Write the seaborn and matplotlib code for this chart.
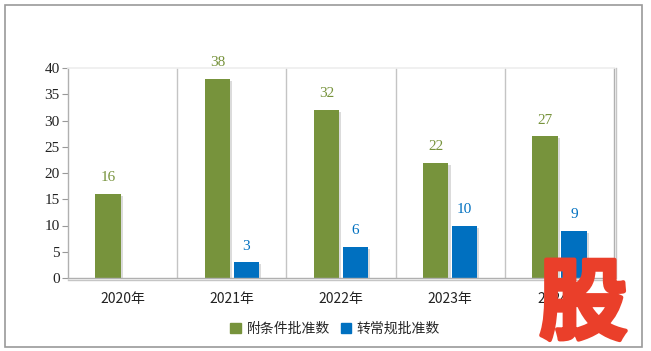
import pandas as pd
import matplotlib.pyplot as plt
import matplotlib.patheffects as pe
from matplotlib.patches import Rectangle
import seaborn as sns

# --- data ---
years = ["2020年", "2021年", "2022年", "2023年", "2024年"]
series_names = ["附条件批准数", "转常规批准数"]
conditional = [16, 38, 32, 22, 27]
regular = [None, 3, 6, 10, 9]
colors = ["#77933C", "#0070C0"]

rows = []
for y, a, b in zip(years, conditional, regular):
    rows.append({"year": y, "series": series_names[0], "value": a})
    if b is not None:
        rows.append({"year": y, "series": series_names[1], "value": b})
df = pd.DataFrame(rows)

sns.set_theme(style="white")
plt.rcParams["font.family"] = ["Noto Sans CJK SC", "DejaVu Sans"]

fig = plt.figure(figsize=(6.51, 3.51), dpi=100)
ax = fig.add_axes([68 / 651, 1 - 278 / 351, 546 / 651, 210 / 351])

sns.barplot(data=df, x="year", y="value", hue="series", order=years,
            hue_order=series_names, palette=colors, saturation=1,
            width=0.53, gap=0.12, errorbar=None, ax=ax, legend=True)

# light drop shadow like the original
shadow = [pe.SimplePatchShadow(offset=(1.5, -1.5), shadow_rgbFace="#888888", alpha=0.3), pe.Normal()]
for cont, col in zip(ax.containers, colors):
    for bar in cont:
        bar.set_path_effects(shadow)
        bar.set_edgecolor("none")
    ax.bar_label(cont, fmt="%d", padding=7, color=col, fontsize=11,
                 family=["Liberation Serif"])

ax.set_xlim(-0.5, 4.5)
ax.set_ylim(0, 40)
ax.set_yticks(range(0, 41, 5))
for x in [0.5, 1.5, 2.5, 3.5]:
    ax.axvline(x, color="#c4c4c4", lw=1, zorder=0)

for lab in ax.get_yticklabels():
    lab.set_fontfamily(["Liberation Serif"])
ax.tick_params(axis="y", labelsize=11, labelcolor="#222222", left=True,
               length=4, width=0.8, color="#999999", pad=2)
ax.tick_params(axis="x", labelsize=10, labelcolor="#222222", bottom=False, pad=4)
ax.set_xlabel("")
ax.set_ylabel("")

for s in ["left", "right", "bottom"]:
    ax.spines[s].set_color("#b0b0b0")
    ax.spines[s].set_linewidth(1)
ax.spines["top"].set_color("#eeeeee")
ax.spines["bottom"].set_path_effects([pe.SimpleLineShadow(offset=(0, -1.5), alpha=0.25), pe.Normal()])
ax.spines["right"].set_path_effects([pe.SimpleLineShadow(offset=(1.5, 0), alpha=0.25), pe.Normal()])

ax.get_legend().remove()
handles = [Rectangle((0, 0), 1, 1, color=c) for c in colors]
fig.legend(handles, series_names, loc="center", bbox_to_anchor=(0.515, 0.064),
           ncol=2, frameon=False, fontsize=10, handlelength=0.75, handleheight=0.75,
           handletextpad=0.4, columnspacing=0.8)

# outer frame
fig.patches.append(Rectangle((5 / 651, 4 / 351), 637 / 651, 342 / 351,
                             transform=fig.transFigure, fill=False,
                             edgecolor="#9a9a9a", lw=1.2))

# watermark
fig.text(0.896, 0.128, "股", color="#EA3F2A", fontsize=64, fontweight="heavy",
         ha="center", va="center", family=["Noto Sans CJK SC"],
         path_effects=[pe.withStroke(linewidth=3, foreground="#EA3F2A")])

fig.savefig("out.png", dpi=100)
